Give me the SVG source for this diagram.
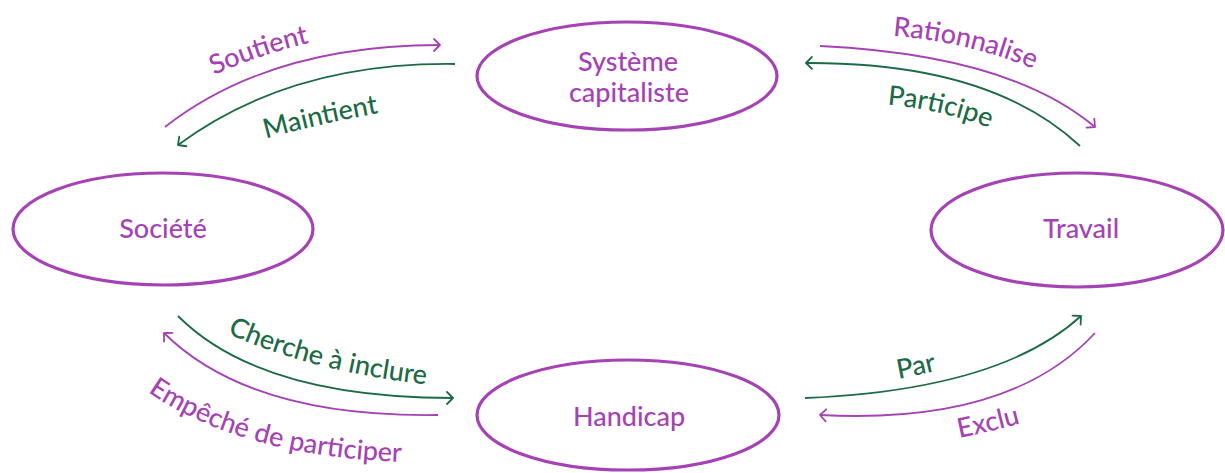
<svg xmlns="http://www.w3.org/2000/svg" width="1225" height="473" viewBox="0 0 1225 473">
<style>
.node{fill:#fff;stroke:#a543b5;stroke-width:3.2}
.nl{font-family:Lato,"Open Sans",sans-serif;font-size:27px;font-weight:500;fill:#a543b5;text-anchor:middle}
.el{font-family:Lato,"Open Sans",sans-serif;font-size:27px;font-weight:500;text-anchor:middle}
.p{fill:none;stroke:#a543b5;stroke-width:1.8}
.g{fill:none;stroke:#1d6b45;stroke-width:1.8}
.pt{fill:#a543b5}
.gt{fill:#1d6b45}
</style>
<defs>
<marker id="ap" markerUnits="userSpaceOnUse" markerWidth="20" markerHeight="20" viewBox="-10 -10 20 20" refX="0" refY="0" orient="auto">
<path d="M-6,-6 L0,0 L-6,6" fill="none" stroke="#a543b5" stroke-width="1.8" stroke-linecap="round" stroke-linejoin="round"/>
</marker>
<marker id="ag" markerUnits="userSpaceOnUse" markerWidth="20" markerHeight="20" viewBox="-10 -10 20 20" refX="0" refY="0" orient="auto">
<path d="M-6,-6 L0,0 L-6,6" fill="none" stroke="#1d6b45" stroke-width="1.8" stroke-linecap="round" stroke-linejoin="round"/>
</marker>
<path id="lSoutient" d="M195,84 Q255,54 330,38"/>
<path id="lMaintient" d="M250,143 Q320,123 395,110"/>
<path id="lRation" d="M880,35 Q970,40 1045,74"/>
<path id="lPartic" d="M878,104 Q940,108 998,131"/>
<path id="lCherche" d="M222,331 Q310,372 432,385"/>
<path id="lEmpeche" d="M145,390 Q240,457 405,462"/>
<path id="lPar" d="M880,382 Q918,376 955,366"/>
<path id="lExclu" d="M950,440 Q990,432 1030,421"/>
</defs>
<g id="connectors">
<path class="p" d="M165,127 Q270,45 440,45" marker-end="url(#ap)"/>
<path class="g" d="M455,64 Q290,62 178,145" marker-end="url(#ag)"/>
<path class="p" d="M820,46 Q1010,55 1095,127" marker-end="url(#ap)"/>
<path class="g" d="M1080,146 Q990,62 806,63" marker-end="url(#ag)"/>
<path class="g" d="M178,316 Q260,398 453,398" marker-end="url(#ag)"/>
<path class="p" d="M438,415 Q250,418 164,333" marker-end="url(#ap)"/>
<path class="g" d="M805,398 Q1000,390 1081,316" marker-end="url(#ag)"/>
<path class="p" d="M1095,333 Q1010,425 820,415" marker-end="url(#ap)"/>
<text class="el pt"><textPath href="#lSoutient" startOffset="50%">Soutient</textPath></text>
<text class="el gt"><textPath href="#lMaintient" startOffset="50%">Maintient</textPath></text>
<text class="el pt"><textPath href="#lRation" startOffset="50%">Rationnalise</textPath></text>
<text class="el gt"><textPath href="#lPartic" startOffset="50%">Participe</textPath></text>
<text class="el gt"><textPath href="#lCherche" startOffset="50%">Cherche à inclure</textPath></text>
<text class="el pt"><textPath href="#lEmpeche" startOffset="50%">Empêché de participer</textPath></text>
<text class="el gt"><textPath href="#lPar" startOffset="50%">Par</textPath></text>
<text class="el pt"><textPath href="#lExclu" startOffset="50%">Exclu</textPath></text>
</g>
<g id="node-systeme">
<ellipse class="node" cx="627" cy="76" rx="150" ry="54"/>
<text class="nl" x="628" y="71">Système</text>
<text class="nl" x="629" y="102">capitaliste</text>
</g>
<g id="node-societe">
<ellipse class="node" cx="163" cy="229" rx="150" ry="56"/>
<text class="nl" x="163" y="238">Société</text>
</g>
<g id="node-travail">
<ellipse class="node" cx="1077" cy="230" rx="146" ry="57"/>
<text class="nl" x="1081" y="238">Travail</text>
</g>
<g id="node-handicap">
<ellipse class="node" cx="628" cy="415" rx="151" ry="55"/>
<text class="nl" x="629" y="426">Handicap</text>
</g>
</svg>
